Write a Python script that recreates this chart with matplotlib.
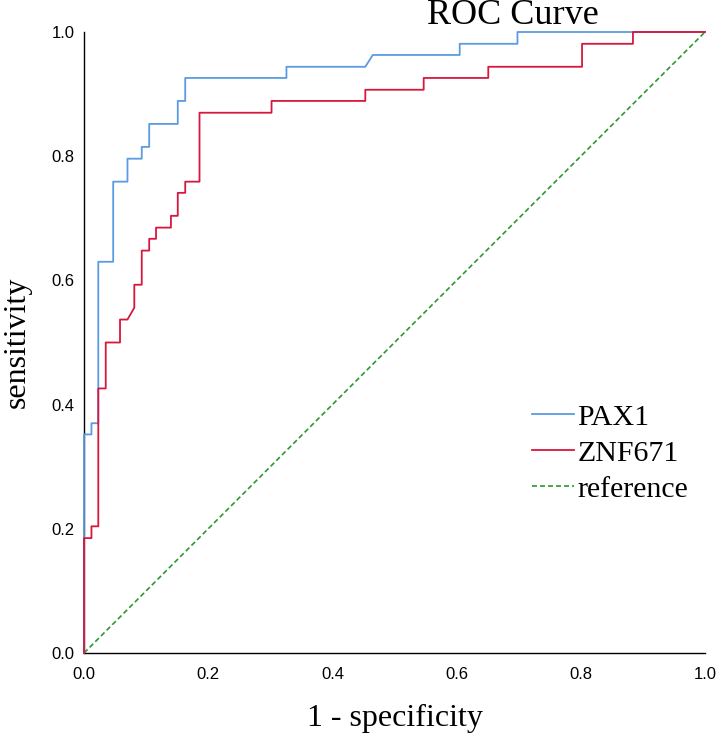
"""ROC curves for PAX1 and ZNF671 methylation markers."""
import matplotlib
matplotlib.use("Agg")
import matplotlib.pyplot as plt

# ---------------------------------------------------------------------------
# Data: step corners of each ROC curve
# ---------------------------------------------------------------------------
pax1_fpr = [0.000, 0.000, 0.012, 0.012, 0.023, 0.023, 0.047, 0.047, 0.070, 0.070,
            0.093, 0.093, 0.105, 0.105, 0.151, 0.151, 0.163, 0.163, 0.326, 0.326,
            0.453, 0.465, 0.605, 0.605, 0.698, 0.698, 1.000]
pax1_tpr = [0.000, 0.352, 0.352, 0.370, 0.370, 0.630, 0.630, 0.759, 0.759, 0.796,
            0.796, 0.815, 0.815, 0.852, 0.852, 0.889, 0.889, 0.926, 0.926, 0.944,
            0.944, 0.963, 0.963, 0.981, 0.981, 1.000, 1.000]

znf671_fpr = [0.000, 0.000, 0.012, 0.012, 0.023, 0.023, 0.035, 0.035, 0.058, 0.058,
              0.070, 0.081, 0.081, 0.093, 0.093, 0.105, 0.105, 0.116, 0.116, 0.140,
              0.140, 0.151, 0.151, 0.163, 0.163, 0.186, 0.186, 0.302, 0.302, 0.453,
              0.453, 0.547, 0.547, 0.651, 0.651, 0.802, 0.802, 0.884, 0.884, 1.000]
znf671_tpr = [0.000, 0.185, 0.185, 0.204, 0.204, 0.426, 0.426, 0.500, 0.500, 0.537,
              0.537, 0.556, 0.593, 0.593, 0.648, 0.648, 0.667, 0.667, 0.685, 0.685,
              0.704, 0.704, 0.741, 0.741, 0.759, 0.759, 0.870, 0.870, 0.889, 0.889,
              0.907, 0.907, 0.926, 0.926, 0.944, 0.944, 0.981, 0.981, 1.000, 1.000]

ref_x = [0.0, 1.0]
ref_y = [0.0, 1.0]

x_ticks = [0.0, 0.2, 0.4, 0.6, 0.8, 1.0]
y_ticks = [0.0, 0.2, 0.4, 0.6, 0.8, 1.0]

SERIF = ["Liberation Serif", "DejaVu Serif"]
SANS = ["Liberation Sans", "DejaVu Sans"]

fig = plt.figure(figsize=(7.17, 7.40), dpi=100)
ax = fig.add_axes([84 / 717, 87 / 740, 621 / 717, 621 / 740])

ax.plot(pax1_fpr, pax1_tpr, color="#5A9BE3", lw=1.3, label="PAX1",
        clip_on=False, zorder=3)
ax.plot(znf671_fpr, znf671_tpr, color="#D7173D", lw=1.3, label="ZNF671",
        clip_on=False, zorder=4)
ax.plot(ref_x, ref_y, color="#2E962E", lw=1.2, dashes=(3.0, 1.8),
        label="reference", clip_on=False, zorder=3)

ax.set_xlim(0, 1)
ax.set_ylim(0, 1)
ax.set_xticks(x_ticks)
ax.set_yticks(y_ticks)
ax.set_xticklabels([f"{v:.1f}" for v in x_ticks], family=SANS, fontsize=12)
ax.set_yticklabels([f"{v:.1f}" for v in y_ticks], family=SANS, fontsize=12)
ax.tick_params(axis="x", length=0, pad=10)
ax.tick_params(axis="y", length=0, pad=7)

for side in ("top", "right"):
    ax.spines[side].set_visible(False)
for side in ("left", "bottom"):
    ax.spines[side].set_color("black")
    ax.spines[side].set_linewidth(1.0)

ax.set_xlabel("1 - specificity", family=SERIF, fontsize=23)
ax.xaxis.set_label_coords(0.5, -0.082)
ax.set_ylabel("sensitivity", family=SERIF, fontsize=23)
ax.yaxis.set_label_coords(-0.084, 0.5)

fig.text(513 / 717, 1 - 24 / 740, "ROC Curve", family=SERIF, fontsize=26,
         ha="center", va="baseline")

ax.legend(loc="upper left", bbox_to_anchor=(532 / 717, 1 - 404 / 740),
          bbox_transform=fig.transFigure, frameon=False, borderpad=0,
          borderaxespad=0, handlelength=1.4, handletextpad=0.12,
          labelspacing=0.3, prop={"family": SERIF, "size": 21.5})

fig.savefig("out.png", dpi=100)
